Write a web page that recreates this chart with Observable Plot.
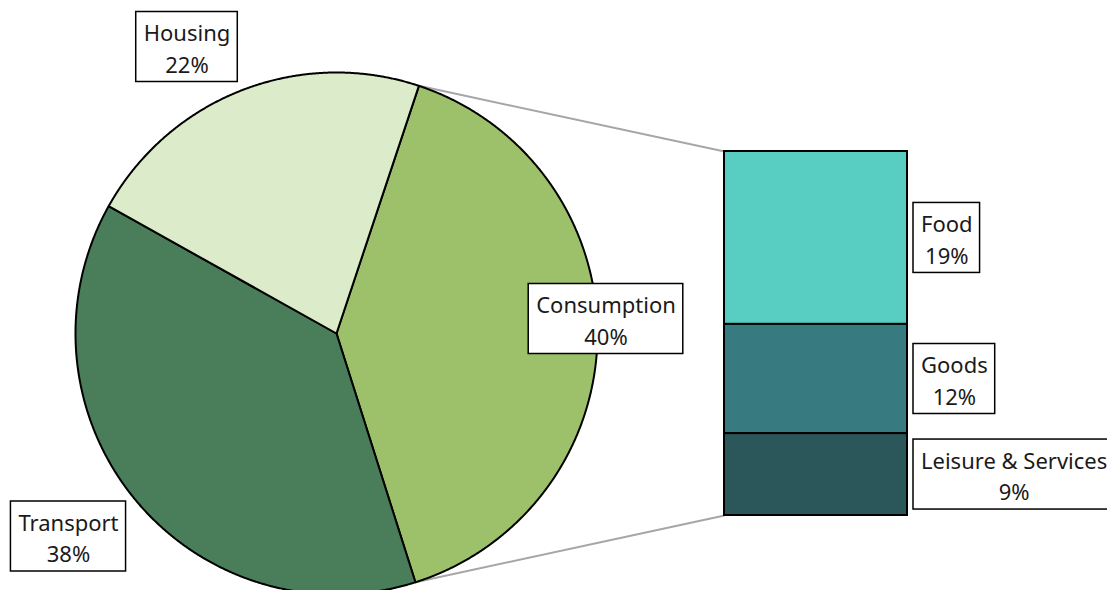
<!DOCTYPE html>
<html><head><meta charset="utf-8">
<script src="https://cdn.jsdelivr.net/npm/d3@7"></script>
<script src="https://cdn.jsdelivr.net/npm/@observablehq/plot@0.6"></script>
<style>body{margin:0;background:#fff;overflow:hidden}</style>
</head><body><div id="chart"></div>
<script>
// ---- data ----
const pieCategories = ["Consumption", "Transport", "Housing"];
const pieValues = [40, 38, 22];
const barCategories = ["Food", "Goods", "Leisure & Services"];
const barValues = [19, 12, 9];

// ---- styles / layout ----
const pieColors = ["#9dc16b", "#4a7d5a", "#dcebc9"];
const barColors = ["#58cec2", "#377a80", "#2b575b"];
const W = 1107, H = 590;
const cx = 336, cy = 333, R = 261;
const startDeg = 18.4;
const bar = {x1: 724, x2: 907, top: 151, bottom: 515};
const pieLabelPos = [[605.5, 318.5], [68, 536], [186.5, 46.5]];
const FONT_SIZE = 22, FONT = "'Segoe UI','Noto Sans',sans-serif";
const PAD = 7.5, BOX_H = 70, BAR_LABEL_GAP = 6;

const ctx = document.createElement("canvas").getContext("2d");
ctx.font = `${FONT_SIZE}px ${FONT}`;
const textW = s => Math.max(...s.split("\n").map(l => ctx.measureText(l).width));

// pie geometry
const a0 = startDeg * Math.PI / 180;
const arcs = d3.pie().sort(null).startAngle(a0).endAngle(a0 + 2 * Math.PI)(pieValues);
const pt = a => ({x: cx + R * Math.sin(a), y: cy - R * Math.cos(a)});
const slices = arcs.map(p => {
  const pts = [{x: cx, y: cy}];
  const n = Math.ceil((p.endAngle - p.startAngle) / 0.004);
  for (let k = 0; k <= n; k++) pts.push(pt(p.startAngle + (p.endAngle - p.startAngle) * k / n));
  return pts;
});

// bar geometry (stacked)
const total = d3.sum(barValues);
const k = (bar.bottom - bar.top) / total;
let cum = 0;
const segs = barValues.map((v, i) => {
  const s = {y1: bar.top + cum * k, y2: bar.top + (cum + v) * k, fill: barColors[i]};
  cum += v;
  return s;
});

// connectors
const cArc = arcs[0];
const links = [
  {...pt(cArc.startAngle), x2: bar.x1, y2: bar.top},
  {...pt(cArc.endAngle), x2: bar.x1, y2: bar.bottom}
];

// labels
const labels = [];
pieCategories.forEach((c, i) => {
  const t = `${c}\n${pieValues[i]}%`;
  const w = textW(t) + 2 * PAD;
  labels.push({t, x: pieLabelPos[i][0], y: pieLabelPos[i][1], w});
});
barCategories.forEach((c, i) => {
  const t = `${c}\n${barValues[i]}%`;
  const w = textW(t) + 2 * PAD;
  labels.push({t, x: bar.x2 + BAR_LABEL_GAP + w / 2, y: (segs[i].y1 + segs[i].y2) / 2, w});
});

const chart = Plot.plot({
  width: W, height: H, margin: 0,
  x: {domain: [0, W], range: [0, W], axis: null},
  y: {domain: [0, H], range: [0, H], axis: null},
  style: {background: "#fff", fontFamily: FONT},
  marks: [
    Plot.link(links, {x1: "x", y1: "y", x2: "x2", y2: "y2", stroke: "#a6a6a6", strokeWidth: 2}),
    ...slices.map((s, i) => Plot.line(s, {x: "x", y: "y", curve: "linear-closed", fill: pieColors[i], stroke: "#000", strokeWidth: 2, strokeLinejoin: "round"})),
    Plot.rect(segs, {x1: bar.x1, x2: bar.x2, y1: "y1", y2: "y2", fill: "fill", stroke: "#000", strokeWidth: 2}),
    Plot.rect(labels, {x1: d => d.x - d.w / 2, x2: d => d.x + d.w / 2, y1: d => d.y - BOX_H / 2, y2: d => d.y + BOX_H / 2, fill: "#fff", stroke: "#000", strokeWidth: 1.5}),
    Plot.text(labels, {x: "x", y: "y", text: "t", fontSize: FONT_SIZE, lineHeight: 1.42, lineAnchor: "middle", textAnchor: "middle", fill: "#1a1a1a"})
  ]
});
document.getElementById("chart").appendChild(chart);
</script>
</body></html>
